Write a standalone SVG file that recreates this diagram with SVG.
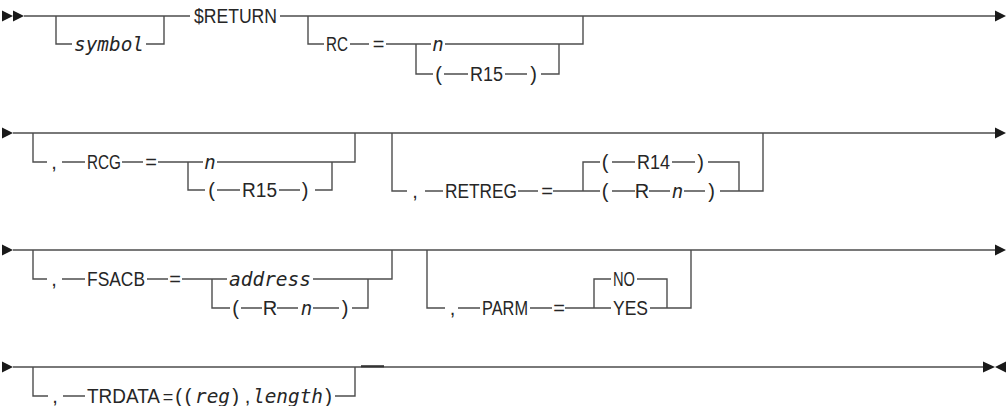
<svg xmlns="http://www.w3.org/2000/svg" width="1008" height="406" viewBox="0 0 1008 406">
<style>
.ln{fill:none;stroke:#4d4d4d;stroke-width:1.4}
.ar{fill:#1a1a1a}
text{font-family:"Liberation Sans",Arial,sans-serif;font-size:20px;fill:#262626}
.it{font-family:"DejaVu Sans Mono","Liberation Mono",monospace;font-style:italic;font-size:19px}
.c{text-anchor:middle}
</style>
<rect width="1008" height="406" fill="#ffffff"/>
<g id="connectors">
<path class="ln" d="M24,16 H190 M280,16 H995"/>
<path class="ln" d="M56,16 V44 H72 M146,44 H164 V16"/>
<path class="ln" d="M308,16 V44 H324 M350,44 H369 M386,44 H431 M445,44 H583 V16 M416,44 V74 H433 M444,74 H468 M505,74 H527 M541,74 H559 V44"/>
<path class="ln" d="M13,133 H995"/>
<path class="ln" d="M33,133 V162 H47 M62,162 H85 M122,162 H143 M158,162 H203 M217,162 H355 V133 M188,162 V190 H205 M217,190 H240 M279,190 H300 M315,190 H332 V162"/>
<path class="ln" d="M392,133 V191 H407 M425,191 H443 M518,191 H538 M553,191 H600 M583,191 V162 H600 M612,162 H635 M672,162 H695 M708,162 H739 V191 M612,191 H635 M649,191 H670 M684,191 H705 M720,191 H763 V133"/>
<path class="ln" d="M13,250 H995"/>
<path class="ln" d="M33,250 V279 H47 M62,279 H85 M147,279 H168 M182,279 H227 M313,279 H392 V250 M212,279 V308 H230 M241,308 H262 M277,308 H298 M313,308 H339 M352,308 H368 V279"/>
<path class="ln" d="M427,250 V308 H445 M458,308 H480 M530,308 H552 M565,308 H611 M594,308 V279 H611 M637,279 H667 V308 M650,308 H691 V250"/>
<path class="ln" d="M13,367 H983"/>
<path class="ln" d="M33,367 V396 H48 M63,396 H85 M335,396 H355 V367"/>
<path class="ln" d="M361,366.3 H384" style="stroke-width:2.2;stroke:#333"/>
<polygon class="ar" points="2,10.5 13,16 2,21.5"/>
<polygon class="ar" points="13,10.5 24,16 13,21.5"/>
<polygon class="ar" points="995,10.5 1006,16 995,21.5"/>
<polygon class="ar" points="2,127.5 13,133 2,138.5"/>
<polygon class="ar" points="995,127.5 1006,133 995,138.5"/>
<polygon class="ar" points="2,244.5 13,250 2,255.5"/>
<polygon class="ar" points="995,244.5 1006,250 995,255.5"/>
<polygon class="ar" points="2,361.5 13,367 2,372.5"/>
<polygon class="ar" points="983,361.5 995,367 983,372.5"/>
<polygon class="ar" points="1006,361.5 995,367 1006,372.5"/>
</g>
<g id="symbol"><text class="it" x="74" y="51" textLength="70" lengthAdjust="spacingAndGlyphs">symbol</text></g>
<g id="return"><text x="194" y="23" textLength="83" lengthAdjust="spacingAndGlyphs">$RETURN</text></g>
<g id="rc">
<text x="326" y="51" textLength="22" lengthAdjust="spacingAndGlyphs">RC</text>
<text class="c" x="378.5" y="51">=</text>
<text class="it c" x="438" y="51">n</text>
<text class="c" x="438.5" y="81">(</text>
<text x="470" y="81" textLength="33" lengthAdjust="spacingAndGlyphs">R15</text>
<text class="c" x="533.5" y="81">)</text>
</g>
<g id="rcg">
<text class="c" x="54" y="169">,</text>
<text x="87" y="169" textLength="34" lengthAdjust="spacingAndGlyphs">RCG</text>
<text class="c" x="151" y="169">=</text>
<text class="it c" x="210" y="169">n</text>
<text class="c" x="211.5" y="197">(</text>
<text x="242" y="197" textLength="35" lengthAdjust="spacingAndGlyphs">R15</text>
<text class="c" x="305" y="197">)</text>
</g>
<g id="retreg">
<text class="c" x="415" y="198">,</text>
<text x="445" y="198" textLength="72" lengthAdjust="spacingAndGlyphs">RETREG</text>
<text class="c" x="547" y="198">=</text>
<text class="c" x="605" y="169">(</text>
<text x="637" y="169" textLength="33" lengthAdjust="spacingAndGlyphs">R14</text>
<text class="c" x="700.5" y="169">)</text>
<text class="c" x="605" y="198">(</text>
<text class="c" x="642" y="198">R</text>
<text class="it c" x="677.5" y="198">n</text>
<text class="c" x="711.5" y="198">)</text>
</g>
<g id="fsacb">
<text class="c" x="54" y="286">,</text>
<text x="87" y="286" textLength="58" lengthAdjust="spacingAndGlyphs">FSACB</text>
<text class="c" x="175" y="286">=</text>
<text class="it" x="229" y="286" textLength="82" lengthAdjust="spacingAndGlyphs">address</text>
<text class="c" x="235.5" y="315">(</text>
<text class="c" x="270" y="315">R</text>
<text class="it c" x="306.5" y="315">n</text>
<text class="c" x="345" y="315">)</text>
</g>
<g id="parm">
<text class="c" x="452.5" y="315">,</text>
<text x="482" y="315" textLength="46" lengthAdjust="spacingAndGlyphs">PARM</text>
<text class="c" x="559" y="315">=</text>
<text x="613" y="286" textLength="22" lengthAdjust="spacingAndGlyphs">NO</text>
<text x="613" y="315" textLength="35" lengthAdjust="spacingAndGlyphs">YES</text>
</g>
<g id="trdata">
<text class="c" x="55" y="403">,</text>
<text x="87" y="403" textLength="73" lengthAdjust="spacingAndGlyphs">TRDATA</text>
<text class="c" x="168" y="403" style="font-size:18px">=</text>
<text class="c" x="178.5" y="403">(</text>
<text class="c" x="188" y="403">(</text>
<text class="it" x="195" y="403" textLength="35" lengthAdjust="spacingAndGlyphs">reg</text>
<text class="c" x="235.5" y="403">)</text>
<text class="c" x="247.5" y="403">,</text>
<text class="it" x="253" y="403" textLength="70" lengthAdjust="spacingAndGlyphs">length</text>
<text class="c" x="328.5" y="403">)</text>
</g>
</svg>
